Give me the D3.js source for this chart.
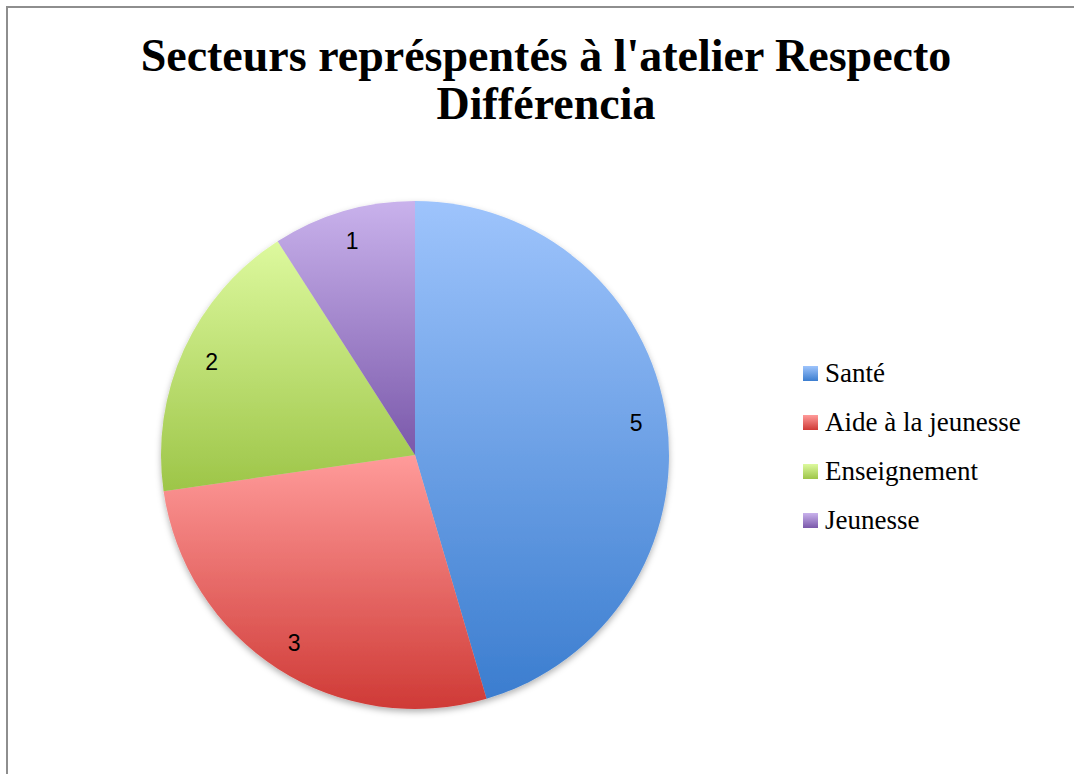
<!DOCTYPE html>
<html>
<head>
<meta charset="utf-8">
<script src="https://cdn.jsdelivr.net/npm/d3@7"></script>
<style>
  body { margin: 0; background: #fff; }
</style>
</head>
<body>
<div id="viz-container"></div>
<script>
// data
let categories = ["Santé", "Aide à la jeunesse", "Enseignement", "Jeunesse"];
let values = [5, 3, 2, 1];
let topColors = ["#9ec4fc", "#ff9b9a", "#ddf99e", "#c9b2ec"];
let bottomColors = ["#3b7dcf", "#cf3a36", "#9dc548", "#7a58aa"];
let titleLines = ["Secteurs représpentés à l'atelier Respecto", "Différencia"];

let W = 1074, H = 774;

let viz = d3.select("#viz-container")
  .append("svg")
    .attr("width", W)
    .attr("height", H)
;

// frame (runs off right and bottom)
viz.append("rect")
    .attr("x", 7)
    .attr("y", 7)
    .attr("width", 1080)
    .attr("height", 800)
    .attr("fill", "#fff")
    .attr("stroke", "#8e8e8e")
    .attr("stroke-width", 2)
;

let defs = viz.append("defs");
categories.forEach(function(c, i) {
  let g = defs.append("linearGradient")
      .attr("id", "grad" + i)
      .attr("x1", 0).attr("y1", 0).attr("x2", 0).attr("y2", 1);
  g.append("stop").attr("offset", "0%").attr("stop-color", topColors[i]);
  g.append("stop").attr("offset", "100%").attr("stop-color", bottomColors[i]);
});
let shadow = defs.append("filter").attr("id", "shadow")
    .attr("x", "-10%").attr("y", "-10%").attr("width", "120%").attr("height", "120%");
shadow.append("feDropShadow")
    .attr("dx", 0).attr("dy", 3).attr("stdDeviation", 3)
    .attr("flood-color", "#000").attr("flood-opacity", 0.3);

// title
viz.append("text")
    .attr("x", 546)
    .attr("y", 71)
    .attr("text-anchor", "middle")
    .attr("font-family", "'Liberation Serif', serif")
    .attr("font-weight", "bold")
    .attr("font-size", 46)
    .selectAll("tspan")
    .data(titleLines)
    .join("tspan")
      .attr("x", 546)
      .attr("dy", (d, i) => i === 0 ? 0 : 48)
      .text(d => d)
;

// pie
let cx = 415, cy = 455, r = 254;
let pie = d3.pie().sort(null).value(d => d);
let arc = d3.arc().innerRadius(0).outerRadius(r);
let labelArc = d3.arc().innerRadius(r * 0.88).outerRadius(r * 0.88);

let pieG = viz.append("g")
    .attr("transform", "translate(" + cx + "," + cy + ")")
;

let arcs = pie(values);

pieG.append("g")
    .attr("filter", "url(#shadow)")
    .selectAll("path")
    .data(arcs)
    .join("path")
      .attr("d", arc)
      .attr("fill", (d, i) => "url(#grad" + i + ")")
;

pieG.selectAll("text")
    .data(arcs)
    .join("text")
      .attr("transform", d => "translate(" + labelArc.centroid(d) + ")")
      .attr("text-anchor", "middle")
      .attr("dy", "0.35em")
      .attr("font-family", "'Liberation Sans', sans-serif")
      .attr("font-size", 23)
      .attr("fill", "#000")
      .text(d => d.data)
;

// legend
let legend = viz.append("g")
    .attr("transform", "translate(803,373)")
;
let rows = legend.selectAll("g")
    .data(categories)
    .join("g")
      .attr("transform", (d, i) => "translate(0," + (i * 49) + ")")
;
rows.append("rect")
    .attr("x", 0)
    .attr("y", -7)
    .attr("width", 15)
    .attr("height", 15)
    .attr("fill", (d, i) => "url(#grad" + i + ")")
;
rows.append("text")
    .attr("x", 22)
    .attr("y", 0)
    .attr("dy", "0.35em")
    .attr("font-family", "'Liberation Serif', serif")
    .attr("font-size", 27)
    .attr("fill", "#000")
    .text(d => d)
;
</script>
</body>
</html>
